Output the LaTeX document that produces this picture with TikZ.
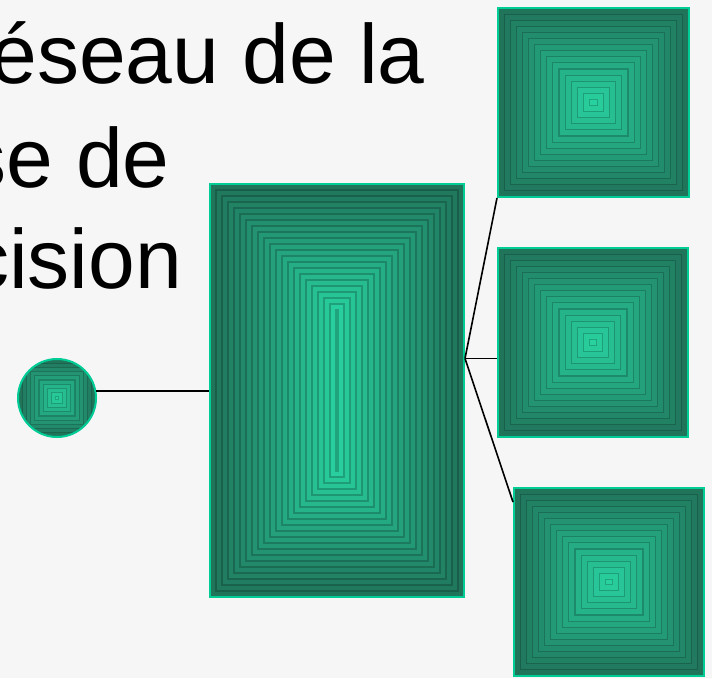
\documentclass[tikz,border=0pt]{standalone}
\usepackage{fontspec}
\setmainfont{Liberation Sans}
\usetikzlibrary{calc}

\definecolor{paper}{RGB}{246,246,246}
\definecolor{rimgreen}{RGB}{0,204,150}
\definecolor{deepgreen}{RGB}{32,116,90}
\definecolor{palegreen}{RGB}{40,210,160}

\tikzset{
  banded/.style n args={2}{draw=rimgreen, line width=2pt, inner sep=0pt,
    path picture={
      \foreach \k in {0,...,#1}{
        \pgfmathsetmacro\mixval{100*\k/#1}
        \colorlet{bandcol}{palegreen!\mixval!deepgreen}
        \fill[bandcol, draw=bandcol!78!black, line width=1.1pt]
          ([shift={(\k*#2,\k*#2)}]path picture bounding box.south west) rectangle
          ([shift={(-\k*#2,-\k*#2)}]path picture bounding box.north east);
      }
    }},
  title/.style={font=\fontsize{84}{100}\selectfont, inner sep=0pt, anchor=base east},
  link/.style={line width=1.6pt, black}
}

\begin{document}
\begin{tikzpicture}[x=1pt, y=-1pt]
    \fill[paper] (0,0) rectangle (712,678);
    \useasboundingbox (0,0) rectangle (712,678);
    \clip (0,0) rectangle (712,678);

    \node[title] (line1) at (425,83) {éseau de la};
    \node[title] (line2) at (170,187) {se de};
    \node[title] (line3) at (182,288) {cision};

    \node[banded={9}{4.2pt}, circle, minimum size=78pt] (root) at (57,398) {};
    \node[banded={21}{6pt}, rectangle, minimum width=254pt, minimum height=413pt] (mid) at (337,390.5) {};
    \node[banded={15}{6.1pt}, rectangle, minimum width=191pt, minimum height=189pt] (leafA) at (593.5,102.5) {};
    \node[banded={15}{6.1pt}, rectangle, minimum width=190pt, minimum height=189pt] (leafB) at (593,342.5) {};
    \node[banded={15}{6.1pt}, rectangle, minimum width=190pt, minimum height=188pt] (leafC) at (609,582) {};

    \coordinate (fork) at ([yshift=32pt]mid.east);

    \draw[link] (root.10) -- (root.10 -| mid.west);
    \draw[link] (fork) -- (leafA.south west);
    \draw[link] (fork) -- (fork -| leafB.west);
    \draw[link] (fork) -- ([yshift=-15pt]leafC.north west);
\end{tikzpicture}
\end{document}
